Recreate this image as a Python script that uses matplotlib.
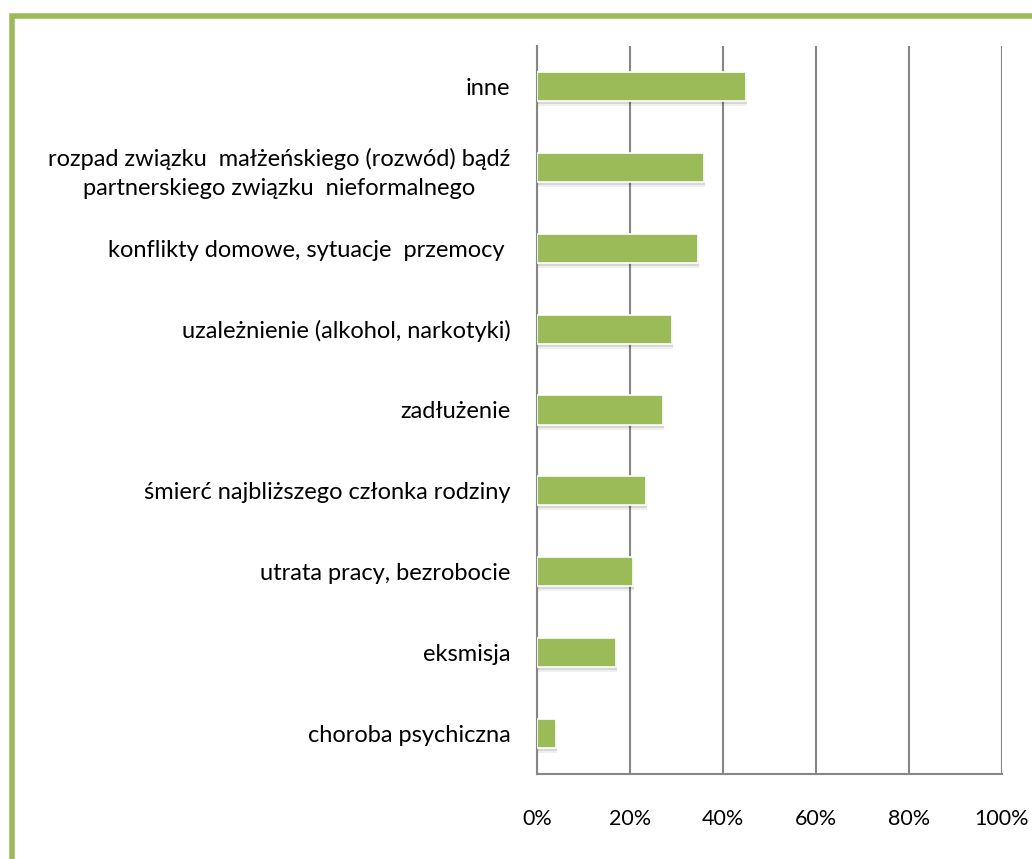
import matplotlib
matplotlib.use("Agg")
import matplotlib.pyplot as plt
import matplotlib.transforms as mtransforms
from matplotlib.patches import Rectangle
from matplotlib.ticker import PercentFormatter

categories = [
    "inne",
    "rozpad związku  małżeńskiego (rozwód) bądź\npartnerskiego związku  nieformalnego",
    "konflikty domowe, sytuacje  przemocy ",
    "uzależnienie (alkohol, narkotyki)",
    "zadłużenie",
    "śmierć najbliższego członka rodziny",
    "utrata pracy, bezrobocie",
    "eksmisja",
    "choroba psychiczna",
]
values = [45, 36, 34.7, 29, 27, 23.5, 20.6, 17, 4]
xticks = [0, 20, 40, 60, 80, 100]

plt.rcParams['font.family'] = ['Lato', 'DejaVu Sans']

fig = plt.figure(figsize=(10.32, 8.59), dpi=100)
W, H = 1032, 859
ax = fig.add_axes([537 / W, (H - 774) / H, (1002 - 537) / W, (774 - 46) / H])

green = "#9BBB59"
ypos = list(range(len(categories)))

# soft shadow below the bars
for dx, dy, a in [(1, -3, 0.10), (1, -5, 0.06)]:
    tr = mtransforms.offset_copy(ax.transData, fig=fig, x=dx, y=dy, units='dots')
    ax.barh(ypos, values, height=0.36, color="#000000", alpha=a,
            transform=tr, zorder=2, linewidth=0)
ax.barh(ypos, values, height=0.36, color=green, edgecolor="white",
        linewidth=1.2, zorder=3)

ax.set_xlim(0, 100)
ax.set_ylim(len(categories) - 0.5, -0.5)
ax.set_xticks(xticks)
ax.xaxis.set_major_formatter(PercentFormatter(decimals=0))
ax.set_yticks(ypos)
ax.set_yticklabels(categories, fontsize=17, multialignment='center', linespacing=1.45)
ax.tick_params(axis='y', length=0, pad=19, labelcolor="#000000")
ax.tick_params(axis='x', length=0, pad=25, labelsize=15.5, labelcolor="#000000")
ax.grid(axis='x', color="#868686", linewidth=1.5, zorder=0)
ax.set_axisbelow(True)
for s in ['top', 'right']:
    ax.spines[s].set_visible(False)
for s in ['left', 'bottom']:
    ax.spines[s].set_color("#868686")
    ax.spines[s].set_linewidth(1.5)

# green frame (right/bottom edges beyond canvas)
frame = Rectangle((12 / W, -0.05), 1.2, (H - 16) / H + 0.05, transform=fig.transFigure,
                  fill=False, edgecolor=green, linewidth=4, zorder=10)
fig.patches.append(frame)

fig.savefig("out.png", dpi=100)
